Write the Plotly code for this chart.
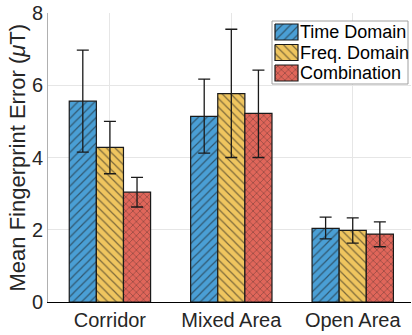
import plotly.graph_objects as go

categories = ["Corridor", "Mixed Area", "Open Area"]
series_names = ["Time Domain", "Freq. Domain", "Combination"]
means = [
    [5.56, 5.14, 2.04],
    [4.28, 5.77, 1.98],
    [3.04, 5.22, 1.88],
]
err_low = [
    [4.15, 4.12, 1.75],
    [3.55, 4.00, 1.63],
    [2.63, 4.00, 1.53],
]
err_high = [
    [6.97, 6.17, 2.35],
    [5.00, 7.55, 2.33],
    [3.45, 6.42, 2.22],
]
colors = ["#4A9FD5", "#EFC55F", "#E0665A"]
patterns = ["/", "\\", "x"]
pattern_sizes = [6, 6, 5]

W, H = 412, 335
ML, MR, MT, MB = 48, 1, 13, 33

fig = go.Figure()
for i, name in enumerate(series_names):
    fig.add_trace(go.Bar(
        name=name,
        x=categories,
        y=means[i],
        showlegend=False,
        marker=dict(
            color=colors[i],
            line=dict(color="#1a1a1a", width=1.2),
            pattern=dict(shape=patterns[i], fgcolor="#1a1a1a", fgopacity=0.55,
                         size=pattern_sizes[i], solidity=0.2, fillmode="overlay"),
        ),
        error_y=dict(
            type="data", symmetric=False,
            array=[h - m for h, m in zip(err_high[i], means[i])],
            arrayminus=[m - l for l, m in zip(err_low[i], means[i])],
            color="#1a1a1a", thickness=1.3, width=6,
        ),
    ))

# custom legend drawn on an overlay axis in pixel coordinates
LX0, LX1, LY0, LY1 = 272, 408, 21, 84
fig.add_trace(go.Scatter(
    x=[LX0, LX1, LX1, LX0, LX0], y=[LY0, LY0, LY1, LY1, LY0],
    xaxis="x2", yaxis="y2", mode="lines", fill="toself", fillcolor="white",
    line=dict(color="#a0a0a0", width=1), showlegend=False, hoverinfo="skip",
))
row_tops = [24, 44.5, 65]
for i, name in enumerate(series_names):
    y0, y1 = row_tops[i], row_tops[i] + 16
    fig.add_trace(go.Scatter(
        x=[275, 298, 298, 275, 275], y=[y0, y0, y1, y1, y0],
        xaxis="x2", yaxis="y2", mode="lines", fill="toself",
        fillcolor=colors[i], line=dict(color="#1a1a1a", width=1.2),
        fillpattern=dict(shape=patterns[i], fgcolor="#1a1a1a", fgopacity=0.55,
                         bgcolor=colors[i], size=pattern_sizes[i], solidity=0.2, fillmode="overlay"),
        showlegend=False, hoverinfo="skip",
    ))
    fig.add_annotation(x=297.5, y=(y0 + y1) / 2, xref="x2", yref="y2", text=name,
                       showarrow=False, xanchor="left", yanchor="middle",
                       font=dict(size=18, color="#000000"))

fig.update_layout(
    width=W, height=H,
    margin=dict(l=ML, r=MR, t=MT, b=MB),
    barmode="group", bargap=0.33, bargroupgap=0,
    plot_bgcolor="white", paper_bgcolor="white",
    font=dict(family="Liberation Sans, Arial, sans-serif", color="#262626", size=20),
    showlegend=False,
    xaxis=dict(
        range=[-0.51, 2.48], automargin=False,
        showgrid=True, gridcolor="#e6e6e6", gridwidth=1,
        showline=True, linecolor="#000000", linewidth=1.2,
        ticks="", tickfont=dict(size=20),
    ),
    yaxis=dict(
        range=[0, 8], tickvals=[0, 2, 4, 6, 8], automargin=False,
        showgrid=True, gridcolor="#e6e6e6", gridwidth=1,
        showline=True, linecolor="#b0b0b0", linewidth=1,
        ticks="", tickfont=dict(size=20), zeroline=False,
    ),
    xaxis2=dict(domain=[0, 1], range=[ML, W - MR], anchor="y2", overlaying="x",
                visible=False, fixedrange=True),
    yaxis2=dict(domain=[0, 1], range=[H - MB, MT], anchor="x2", overlaying="y",
                visible=False, fixedrange=True),
)

fig.add_annotation(text="Mean Fingerprint Error (<i>μ</i>T)", xref="paper", yref="paper",
                   x=0, y=0.5, xshift=-31, textangle=-90, showarrow=False,
                   xanchor="center", yanchor="middle", font=dict(size=22, color="#262626"))

fig.write_html("out.html", config={"displayModeBar": False},
               post_script="document.body.style.margin='0';document.body.style.overflow='hidden';")
